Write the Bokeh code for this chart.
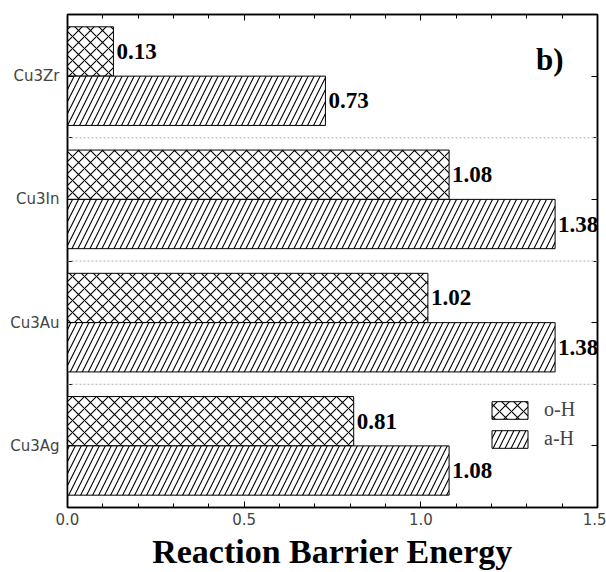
from bokeh.plotting import figure
from bokeh.models import (ColumnDataSource, Range1d, LinearAxis, FixedTicker, Span,
                          Label, Legend, LegendItem, Title, CustomJSTickFormatter)
from bokeh.core.properties import value
from bokeh.embed import file_html
from bokeh.resources import INLINE

categories = ["Cu3Ag", "Cu3Au", "Cu3In", "Cu3Zr"]
o_h = [0.81, 1.02, 1.08, 0.13]
a_h = [1.08, 1.38, 1.38, 0.73]
x_ticks = [0.0, 0.5, 1.0, 1.5]
x_tick_labels = ["0.0", "0.5", "1.0", "1.5"]
x_minor = [0.1, 0.2, 0.3, 0.4, 0.6, 0.7, 0.8, 0.9, 1.1, 1.2, 1.3, 1.4]

n = len(categories)
centers = list(range(n))
bar_h = 0.4

src_o = ColumnDataSource(dict(y=[c + bar_h / 2 for c in centers], v=o_h,
                              t=["%.2f" % v for v in o_h]))
src_a = ColumnDataSource(dict(y=[c - bar_h / 2 for c in centers], v=a_h,
                              t=["%.2f" % v for v in a_h]))

p = figure(width=606, height=572, output_backend="svg", toolbar_location=None,
           x_range=Range1d(0, 1.5), y_range=Range1d(-0.5, n - 0.5),
           x_axis_location=None, y_axis_location=None,
           min_border_left=67, min_border_right=9, min_border_top=14, min_border_bottom=20)
p.grid.visible = False
p.outline_line_color = "black"
p.outline_line_width = 1.5
p.background_fill_color = "white"
p.border_fill_color = "white"

FONT_SANS = "DejaVu Sans"
FONT_SERIF = "Liberation Serif"

# separators
for i in range(n - 1):
    p.add_layout(Span(location=centers[i] + 0.5, dimension="width", line_color="#b0b0b0",
                      line_dash="2 2", line_width=1))

r_o = p.hbar(y="y", right="v", left=0, height=bar_h, source=src_o, fill_color="white",
             line_color="black", line_width=1, hatch_pattern="x", hatch_color="black",
             hatch_scale=12, hatch_weight=1.1)
r_a = p.hbar(y="y", right="v", left=0, height=bar_h, source=src_a, fill_color="white",
             line_color="black", line_width=1, hatch_pattern="/", hatch_color="black",
             hatch_scale=12, hatch_weight=1.1)

for s in (src_o, src_a):
    p.text(x="v", y="y", text="t", source=s, x_offset=3, text_baseline="middle",
           text_align="left", text_font=value(FONT_SERIF), text_font_style="bold",
           text_font_size="23px", text_color="black")

blank = CustomJSTickFormatter(code="return ''")

def style_axis(ax):
    ax.axis_line_color = "black"
    ax.axis_line_width = 1.5
    ax.major_tick_line_color = "black"
    ax.minor_tick_line_color = "black"
    ax.major_tick_out = 0
    ax.minor_tick_out = 0
    ax.major_tick_in = 6
    ax.minor_tick_in = 4

xt = FixedTicker(ticks=x_ticks, minor_ticks=x_minor)
xb = LinearAxis(ticker=xt, major_label_overrides={t: l for t, l in zip(x_ticks, x_tick_labels)})
style_axis(xb)
xb.major_label_text_font = FONT_SANS
xb.major_label_text_font_size = "15px"
xb.major_label_standoff = 5
p.add_layout(xb, "below")

xtop = LinearAxis(ticker=xt, formatter=blank)
style_axis(xtop)
xtop.major_label_standoff = 0
p.add_layout(xtop, "above")

yt = FixedTicker(ticks=centers, minor_ticks=[c + 0.5 for c in centers[:-1]])
yl = LinearAxis(ticker=yt, major_label_overrides={c: cat for c, cat in zip(centers, categories)})
style_axis(yl)
yl.minor_tick_in = 5
yl.major_label_text_font = FONT_SANS
yl.major_label_text_font_size = "15px"
yl.major_label_standoff = 8
p.add_layout(yl, "left")

yr = LinearAxis(ticker=yt, formatter=blank)
style_axis(yr)
yr.major_label_standoff = 0
p.add_layout(yr, "right")

p.add_layout(Label(x=1.404, y=3.135, text="b)", text_align="right", text_baseline="alphabetic",
                   text_font=FONT_SERIF, text_font_style="bold", text_font_size="31px",
                   text_color="black"))

legend = Legend(items=[LegendItem(label="o-H", renderers=[r_o]),
                       LegendItem(label="a-H", renderers=[r_a])],
                location=(420, 57), glyph_width=45, glyph_height=22, spacing=6,
                padding=0, margin=0, label_standoff=12, border_line_color=None,
                background_fill_alpha=0, label_text_font=FONT_SERIF,
                label_text_font_size="20px", label_height=22)
p.add_layout(legend)

p.add_layout(Title(text="Reaction Barrier Energy", align="center",
                   text_font=FONT_SERIF, text_font_style="bold", text_font_size="34px",
                   text_color="black", standoff=6), "below")

open("out.html", "w").write(file_html(p, INLINE))
